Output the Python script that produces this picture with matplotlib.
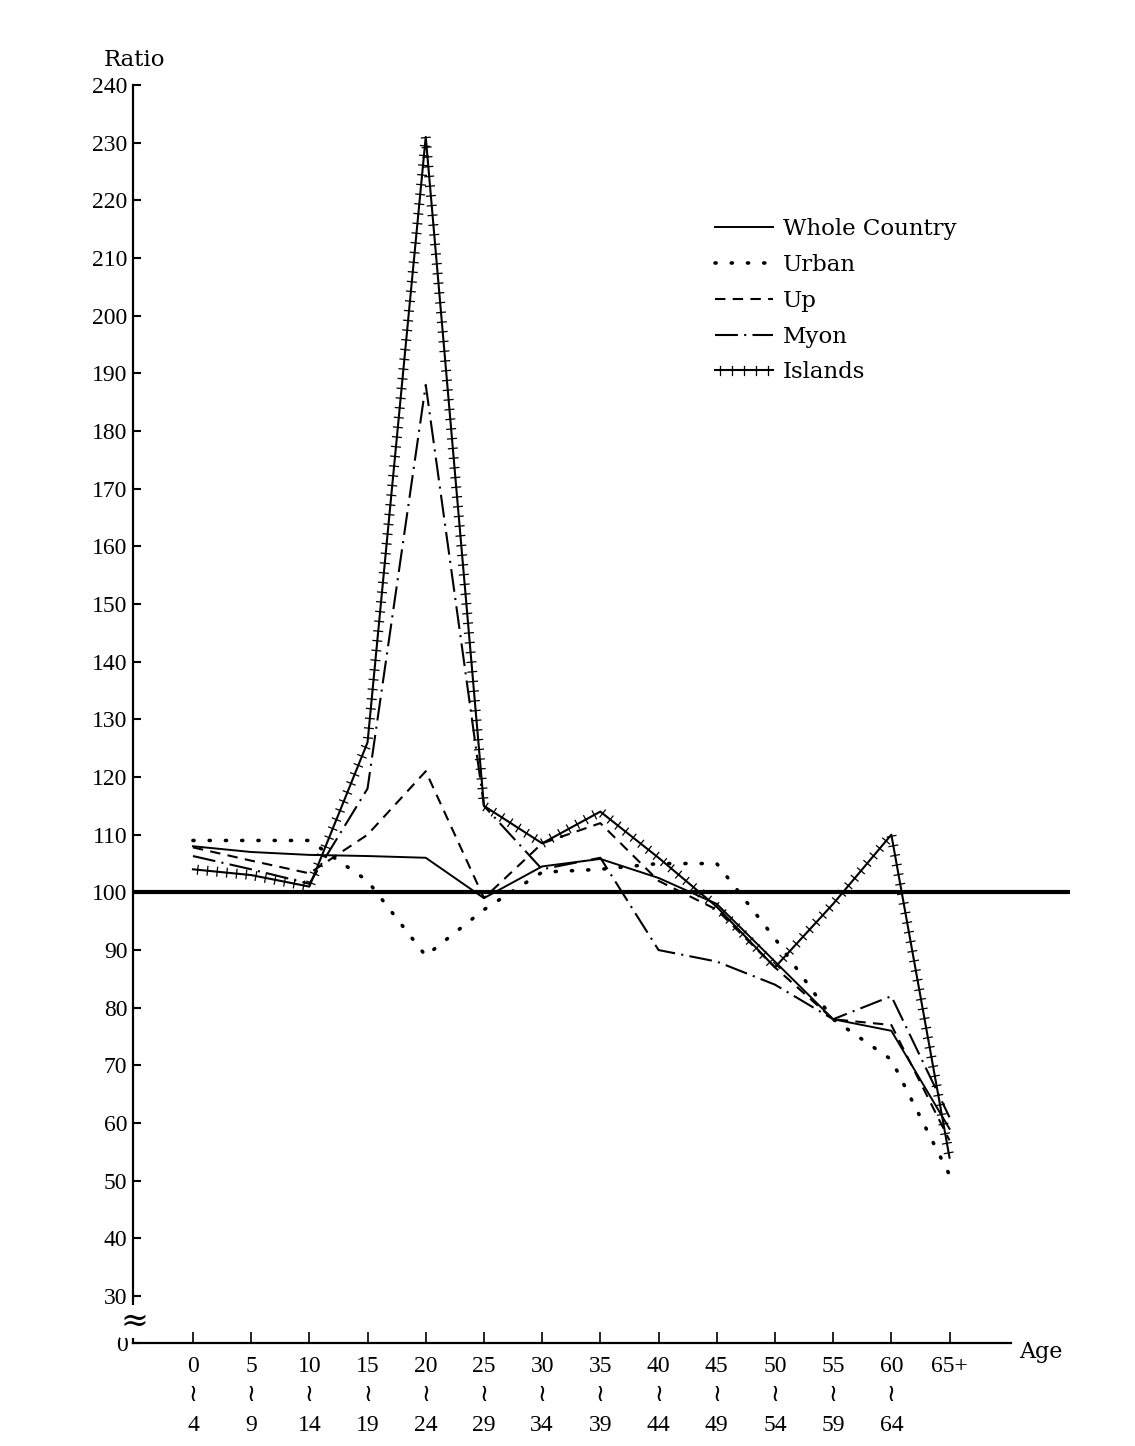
import numpy as np
import matplotlib.pyplot as plt
import matplotlib.patheffects as pe

# age groups (start / end of each five-year band)
age_from = ['0', '5', '10', '15', '20', '25', '30', '35', '40', '45', '50', '55', '60', '65+']
age_to = ['4', '9', '14', '19', '24', '29', '34', '39', '44', '49', '54', '59', '64', '']

# ratio values
whole = [108, 107, 106.5, 106.3, 106, 99, 104.5, 105.8, 102.5, 98, 88, 78, 76, 59]
urban = [109, 109, 109, 102, 89, 97, 103.5, 104, 105, 105, 92, 78, 71, 51]
up = [107.8, 105.5, 103.3, 110, 121, 99, 108.5, 112, 102, 97, 87, 78, 77, 57]
myon = [106.3, 104, 101.5, 118, 188, 115, 104, 106, 90, 88, 84, 78, 82, 61]
islands = [104, 103, 101, 126, 231, 115, 108.5, 114, 106, 97.5, 87, 98, 110, 54]

yticks = list(range(30, 250, 10))
y_zero = 21.86  # broken axis: where "0" sits below 30

plt.rcParams['font.family'] = ['DejaVu Serif', 'DejaVu Sans']
num_font = ['Liberation Serif', 'DejaVu Serif', 'DejaVu Sans']

fig = plt.figure(figsize=(11.35, 14.46), dpi=100)
ax = fig.add_axes([133 / 1135, 1 - 1343 / 1446, (1070 - 133) / 1135, (1343 - 85) / 1446])

x = np.arange(len(age_from))

ax.axhline(100, color='black', lw=3.0, zorder=1)

ax.plot(x, whole, color='black', lw=1.4, label='Whole Country')
ax.plot(x, urban, color='black', lw=2.6, linestyle=(0, (0.3, 4.2)),
        dash_capstyle='round', label='Urban')
ax.plot(x, up, color='black', lw=1.5, linestyle=(0, (5, 3.5)), label='Up')
ax.plot(x, myon, color='black', lw=1.5, linestyle=(0, (11, 3, 1, 3)), label='Myon')
ticked = [pe.withTickedStroke(angle=90, spacing=7, length=0.45, linewidth=0.9),
          pe.TickedStroke(angle=-90, spacing=7, length=0.45, linewidth=0.9)]
ax.plot(x, islands, color='black', lw=1.5, label='Islands', path_effects=ticked)

ax.set_xlim(-1.03, 15.07)
ax.set_ylim(y_zero, 240)

for s in ['top', 'right']:
    ax.spines[s].set_visible(False)
ax.spines['left'].set_linewidth(1.6)
ax.spines['bottom'].set_linewidth(1.6)
ax.spines['bottom'].set_bounds(-1.03, 14.05)

ax.set_yticks([y_zero] + yticks)
ax.set_yticklabels(['0'] + [str(v) for v in yticks], family=num_font)
ax.tick_params(axis='y', direction='in', length=6, width=1.5, pad=4, labelsize=17)

ax.set_xticks(x)
labels = [a + '\n≀\n' + b if b else a for a, b in zip(age_from, age_to)]
ax.set_xticklabels(labels, linespacing=1.55, va='top', family=num_font)
ax.tick_params(axis='x', direction='in', length=8, width=1.2, pad=9, labelsize=17)

# axis break mark
ax.text(-1.0, 25.6, '≈', fontsize=24, ha='center', va='center',
        bbox=dict(facecolor='white', edgecolor='none', pad=0.3), zorder=5,
        clip_on=False)

ax.text(-1.0, 242.5, 'Ratio', fontsize=16.5, ha='center', va='bottom')
ax.text(14.2, y_zero - 1.5, 'Age', fontsize=16, ha='left', va='center')

fig.legend(loc='upper left', bbox_to_anchor=(704 / 1135, 1 - 207 / 1446),
           frameon=False, fontsize=16.5, handlelength=2.5, handletextpad=0.45,
           labelspacing=0.6, borderpad=0)

fig.savefig('out.png', dpi=100, facecolor='white')
